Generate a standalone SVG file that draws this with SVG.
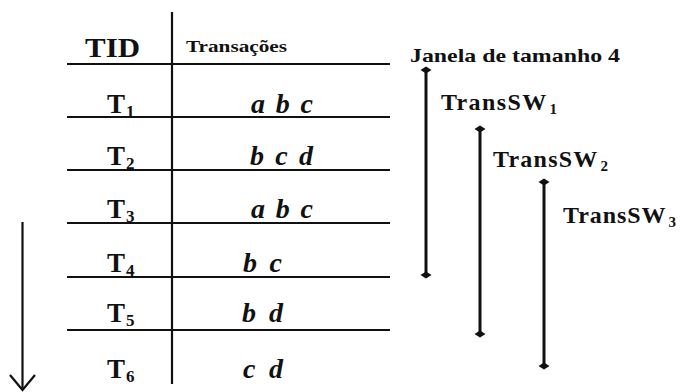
<svg xmlns="http://www.w3.org/2000/svg" width="680" height="392" viewBox="0 0 680 392">
  <defs>
    <style>
      text { font-family: "Liberation Serif", "DejaVu Serif", serif; font-weight: bold; fill: #111; }
      .rule { stroke: #111; stroke-width: 2.2; fill: none; }
      .tid { font-size: 27px; }
      .sub { font-size: 17px; }
      .items { font-style: italic; font-size: 28px; }
      .win { stroke: #111; stroke-width: 3; fill: none; }
      .lbl { font-size: 24px; }
      .lsub { font-size: 15px; }
    </style>
    <marker id="dot" viewBox="-6 -4 12 8" markerWidth="12" markerHeight="8" markerUnits="userSpaceOnUse" orient="0">
      <path d="M-5.5 0 L0 -3.5 L5.5 0 L0 3.5 Z" fill="#111"/>
    </marker>
  </defs>

  <!-- table grid -->
  <g id="table">
    <line class="rule" x1="172" y1="12" x2="172" y2="384"/>
    <line class="rule" x1="67" y1="64" x2="390" y2="64"/>
    <line class="rule" x1="67" y1="117" x2="390" y2="117"/>
    <line class="rule" x1="67" y1="170" x2="390" y2="170"/>
    <line class="rule" x1="67" y1="223" x2="390" y2="223"/>
    <line class="rule" x1="67" y1="277" x2="390" y2="277"/>
    <line class="rule" x1="67" y1="330" x2="390" y2="330"/>
  </g>

  <!-- column headers -->
  <g id="header">
    <text x="85" y="57" font-size="28" textLength="55" lengthAdjust="spacingAndGlyphs">TID</text>
    <text x="186" y="52" font-size="17" textLength="101" lengthAdjust="spacingAndGlyphs">Transações</text>
  </g>

  <!-- transaction rows -->
  <g id="row-t1">
    <text class="tid" x="107" y="113">T<tspan class="sub" dx="1" dy="4">1</tspan></text>
    <text class="items" x="251" y="113" textLength="62" lengthAdjust="spacing">a b c</text>
  </g>
  <g id="row-t2">
    <text class="tid" x="107" y="165">T<tspan class="sub" dx="1" dy="4">2</tspan></text>
    <text class="items" x="250" y="165" textLength="63" lengthAdjust="spacing">b c d</text>
  </g>
  <g id="row-t3">
    <text class="tid" x="107" y="218">T<tspan class="sub" dx="1" dy="4">3</tspan></text>
    <text class="items" x="251" y="218" textLength="62" lengthAdjust="spacing">a b c</text>
  </g>
  <g id="row-t4">
    <text class="tid" x="107" y="272">T<tspan class="sub" dx="1" dy="4">4</tspan></text>
    <text class="items" x="243" y="272" textLength="39" lengthAdjust="spacing">b c</text>
  </g>
  <g id="row-t5">
    <text class="tid" x="107" y="322">T<tspan class="sub" dx="1" dy="4">5</tspan></text>
    <text class="items" x="242" y="322" textLength="41" lengthAdjust="spacing">b d</text>
  </g>
  <g id="row-t6">
    <text class="tid" x="107" y="378">T<tspan class="sub" dx="1" dy="4">6</tspan></text>
    <text class="items" x="243" y="378" textLength="40" lengthAdjust="spacing">c d</text>
  </g>

  <!-- sliding window title -->
  <g id="window-title">
    <text x="410" y="62" font-size="19" textLength="210" lengthAdjust="spacingAndGlyphs">Janela de tamanho 4</text>
  </g>

  <!-- sliding windows -->
  <g id="transsw1">
    <line class="win" x1="426" y1="70" x2="426" y2="275" marker-start="url(#dot)" marker-end="url(#dot)"/>
    <text class="lbl" x="441" y="110" textLength="116" lengthAdjust="spacing">TransSW<tspan class="lsub" dx="2" dy="4">1</tspan></text>
  </g>
  <g id="transsw2">
    <line class="win" x1="480" y1="129" x2="480" y2="334" marker-start="url(#dot)" marker-end="url(#dot)"/>
    <text class="lbl" x="493" y="167" textLength="115" lengthAdjust="spacing">TransSW<tspan class="lsub" dx="2" dy="4">2</tspan></text>
  </g>
  <g id="transsw3">
    <line class="win" x1="544" y1="182" x2="544" y2="366" marker-start="url(#dot)" marker-end="url(#dot)"/>
    <text class="lbl" x="563" y="223" textLength="113" lengthAdjust="spacing">TransSW<tspan class="lsub" dx="2" dy="4">3</tspan></text>
  </g>

  <!-- time direction arrow -->
  <g id="connectors">
    <line class="rule" x1="22.5" y1="222" x2="22.5" y2="390"/>
    <polyline class="rule" points="10,375 22.5,390 35,375"/>
  </g>
</svg>
